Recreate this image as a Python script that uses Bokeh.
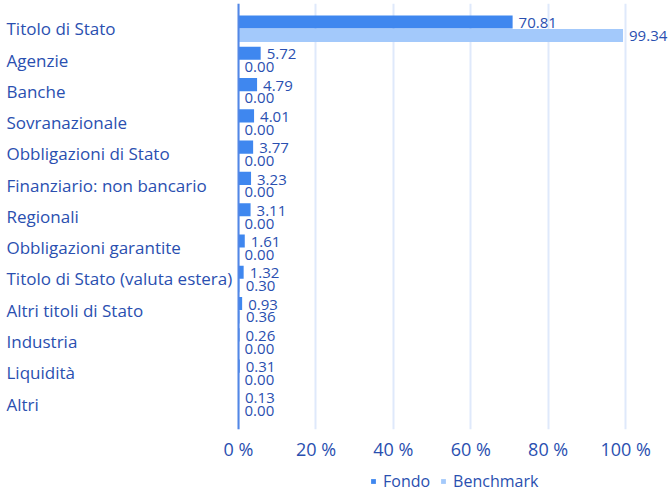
from bokeh.plotting import figure
from bokeh.layouts import column
from bokeh.models import Range1d, ColumnDataSource, FixedTicker, Span, Legend, LegendItem
from bokeh.core.properties import value
from bokeh.transform import dodge
from bokeh.embed import file_html
from bokeh.resources import INLINE

categories = ["Titolo di Stato", "Agenzie", "Banche", "Sovranazionale",
              "Obbligazioni di Stato", "Finanziario: non bancario", "Regionali",
              "Obbligazioni garantite", "Titolo di Stato (valuta estera)",
              "Altri titoli di Stato", "Industria", "Liquidità", "Altri"]
fondo = [70.81, 5.72, 4.79, 4.01, 3.77, 3.23, 3.11, 1.61, 1.32, 0.93, 0.26, 0.31, 0.13]
benchmark = [99.34, 0.00, 0.00, 0.00, 0.00, 0.00, 0.00, 0.00, 0.30, 0.36, 0.00, 0.00, 0.00]
series_names = ["Fondo", "Benchmark"]
tick_values = [0, 20, 40, 60, 80, 100]
tick_labels = ["0 %", "20 %", "40 %", "60 %", "80 %", "100 %"]

FONT = "Open Sans"
TXT = "#2a4fb0"
C_FONDO = "#3f87ef"
C_BENCH = "#a3c9fb"

X_START, X_END = -61.5, 111.6
p = figure(frame_width=670, frame_height=426,
           x_range=Range1d(X_START, X_END), y_range=Range1d(12.812, -0.807),
           output_backend="svg", toolbar_location=None, y_axis_location=None,
           min_border_left=0, min_border_right=0, min_border_top=3, min_border_bottom=36)
p.outline_line_color = None
p.background_fill_color = "white"

src = ColumnDataSource(dict(
    y=list(range(len(categories))),
    cat=categories,
    fondo=fondo,
    bench=benchmark,
    fondo_lbl=[f"{v:.2f}" for v in fondo],
    bench_lbl=[f"{v:.2f}" for v in benchmark],
    lx=[X_START] * len(categories),
))

p.xgrid.ticker = FixedTicker(ticks=tick_values)
p.xgrid.grid_line_color = "#dfe9fb"
p.xgrid.grid_line_width = 2
p.ygrid.visible = False

ax = p.xaxis[0]
ax.ticker = FixedTicker(ticks=tick_values)
ax.major_label_overrides = dict(zip(tick_values, tick_labels))
ax.axis_line_color = None
ax.major_tick_line_color = None
ax.minor_tick_line_color = None
ax.major_tick_out = 0
ax.major_tick_in = 0
ax.major_label_standoff = 7
ax.major_label_text_font = FONT
ax.major_label_text_font_size = "18px"
ax.major_label_text_color = TXT

p.add_layout(Span(location=0, dimension="height", line_color="#5287e6", line_width=2))

p.hbar(y=dodge("y", -0.215), left=0, right="fondo", height=0.42,
       source=src, fill_color=C_FONDO, line_color=None)
p.hbar(y=dodge("y", 0.215), left=0, right="bench", height=0.42,
       source=src, fill_color=C_BENCH, line_color=None)

common = dict(text_font=value(FONT), text_font_size="15px", text_color=TXT,
              text_align="left", text_baseline="middle", x_offset=6, source=src)
p.text(x="fondo", y=dodge("y", -0.18), text="fondo_lbl", **common)
p.text(x="bench", y=dodge("y", 0.23), text="bench_lbl", **common)

p.text(x="lx", y="y", text="cat", text_font=value(FONT), text_font_size="17px",
       text_color=TXT, text_align="left", text_baseline="middle", x_offset=6, source=src)

# legend strip below the chart
leg = figure(width=670, height=33, x_range=Range1d(0, 1), y_range=Range1d(0, 1),
             output_backend="svg", toolbar_location=None,
             x_axis_location=None, y_axis_location=None,
             min_border_left=0, min_border_right=0, min_border_top=0, min_border_bottom=0)
leg.outline_line_color = None
leg.xgrid.visible = False
leg.ygrid.visible = False
g1 = leg.hbar(y="y", right="fondo", left=0, height=0.42, source=src,
              fill_color=C_FONDO, line_color=None, visible=False)
g2 = leg.hbar(y="y", right="bench", left=0, height=0.42, source=src,
              fill_color=C_BENCH, line_color=None, visible=False)

legend = Legend(items=[LegendItem(label=series_names[0], renderers=[g1], index=0),
                       LegendItem(label=series_names[1], renderers=[g2], index=0)],
                orientation="horizontal", location=(370, 6),
                glyph_width=6, glyph_height=6, label_standoff=7, spacing=10,
                margin=0, padding=4, border_line_color=None,
                background_fill_alpha=0, inactive_fill_alpha=0,
                label_text_font=FONT, label_text_font_size="16px",
                label_text_color=TXT)
leg.add_layout(legend, "center")

layout = column(p, leg, spacing=0)
open("out.html", "w").write(file_html(layout, INLINE))
